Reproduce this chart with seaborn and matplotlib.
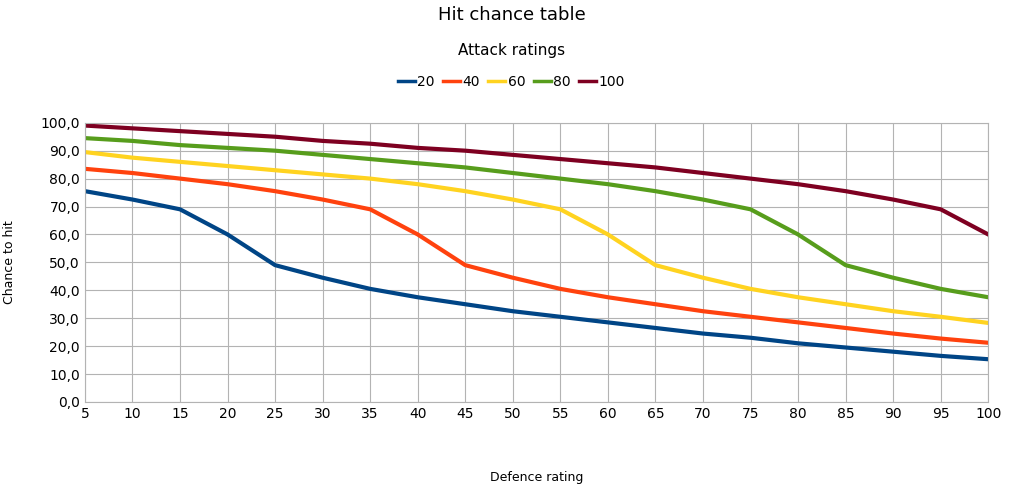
import pandas as pd
import matplotlib
matplotlib.use("Agg")
import matplotlib.pyplot as plt
import seaborn as sns

defence = list(range(5, 101, 5))
hit_20 = [75.5, 72.5, 69, 60, 49, 44.5, 40.5, 37.5, 35, 32.5, 30.5, 28.5, 26.5, 24.5, 23, 21, 19.5, 18, 16.5, 15.3]
hit_40 = [83.5, 82, 80, 78, 75.5, 72.5, 69, 60, 49, 44.5, 40.5, 37.5, 35, 32.5, 30.5, 28.5, 26.5, 24.5, 22.7, 21.2]
hit_60 = [89.5, 87.5, 86, 84.5, 83, 81.5, 80, 78, 75.5, 72.5, 69, 60, 49, 44.5, 40.5, 37.5, 35, 32.5, 30.5, 28.3]
hit_80 = [94.5, 93.5, 92, 91, 90, 88.5, 87, 85.5, 84, 82, 80, 78, 75.5, 72.5, 69, 60, 49, 44.5, 40.5, 37.5]
hit_100 = [99, 98, 97, 96, 95, 93.5, 92.5, 91, 90, 88.5, 87, 85.5, 84, 82, 80, 78, 75.5, 72.5, 69, 60]

series = {"20": hit_20, "40": hit_40, "60": hit_60, "80": hit_80, "100": hit_100}
colors = {"20": "#004586", "40": "#ff420e", "60": "#ffd320", "80": "#579d1c", "100": "#7e0021"}

df = pd.concat([pd.DataFrame({"defence": defence, "hit": v, "attack": k}) for k, v in series.items()])

fig = plt.figure(figsize=(10.23, 4.95), dpi=100)
ax = fig.add_axes([0.083, 0.188, 0.883, 0.564])
sns.lineplot(data=df, x="defence", y="hit", hue="attack", palette=colors, linewidth=3, ax=ax, legend=False)

ax.set_xlim(5, 100)
ax.set_ylim(0, 100)
ax.set_xticks(defence)
ax.set_yticks(range(0, 101, 10))
ax.set_yticklabels([f"{v},0" for v in range(0, 101, 10)])
ax.tick_params(labelsize=10, length=0)
ax.grid(True, color="#b3b3b3", linewidth=0.8)
for s in ax.spines.values():
    s.set_color("#b3b3b3")
ax.set_xlabel("Defence rating", fontsize=9, labelpad=36)
ax.set_ylabel("Chance to hit", fontsize=9, labelpad=18)

fig.text(0.5, 0.97, "Hit chance table", ha="center", va="center", fontsize=13)
fig.text(0.5, 0.898, "Attack ratings", ha="center", va="center", fontsize=11)
handles = [plt.Line2D([], [], color=colors[k], linewidth=2.5) for k in series]
fig.legend(handles, list(series), loc="center", bbox_to_anchor=(0.5, 0.834), ncol=5,
           frameon=False, handlelength=1.2, handletextpad=0.2, columnspacing=0.6, fontsize=10)

fig.savefig("out.png", dpi=100)
